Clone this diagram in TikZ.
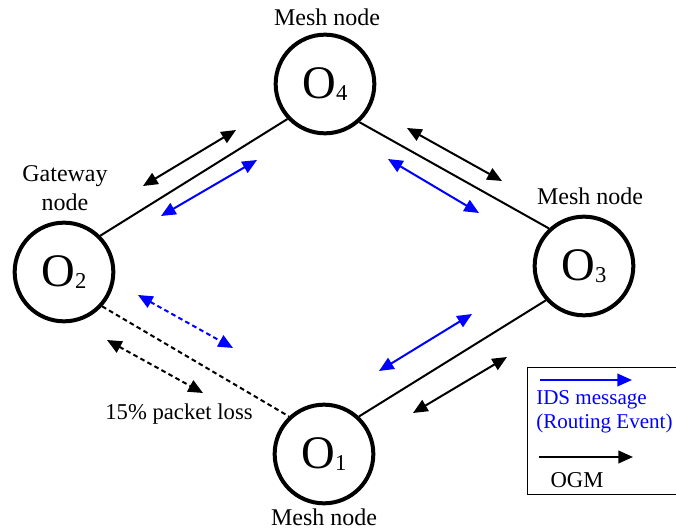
\documentclass[tikz,border=0pt]{standalone}
\usepackage{fontspec}
\setmainfont{Liberation Serif}
\usetikzlibrary{arrows.meta}

\definecolor{idsblue}{RGB}{0,0,255}

\tikzset{
  meshnode/.style={draw, circle, line width=3pt, minimum size=74pt, inner sep=0pt},
  lbl/.style={font=\fontsize{17}{22}\selectfont},
  role/.style={font=\fontsize{18}{22}\selectfont},
  keytext/.style={font=\fontsize{15.8}{20}\selectfont, anchor=west, inner sep=0pt},
  link/.style={line width=1.5pt},
  lossy/.style={link, dash pattern=on 3.5pt off 2.5pt},
  ogm/.style={line width=1.5pt, {Triangle[length=11pt,width=9.5pt]}-{Triangle[length=11pt,width=9.5pt]}},
  ogmloss/.style={ogm, dash pattern=on 3.5pt off 2.5pt},
  ids/.style={ogm, idsblue},
  idsloss/.style={ogmloss, idsblue},
  keyarrow/.style={line width=1.5pt, -{Triangle[length=11pt,width=9.5pt]}},
}

\newcommand{\oname}[1]{{\fontsize{35}{35}\selectfont O}\raisebox{-2pt}{\fontsize{17}{17}\selectfont #1}}

\begin{document}
\begin{tikzpicture}[x=0.75pt, y=-0.75pt]
\useasboundingbox (0,0) rectangle (676,531);

% nodes of the mesh
\node[meshnode] (o4) at (325,84) {\oname{4}};
\node[meshnode] (o2) at (64,272) {\oname{2}};
\node[meshnode] (o3) at (584,266) {\oname{3}};
\node[meshnode] (o1) at (324,454) {\oname{1}};

\node[role] (t4) at (327,17) {Mesh node};
\node[role, align=center] (t2) at (65,188) {Gateway\\node};
\node[role] (t3) at (590,196) {Mesh node};
\node[role] (t1) at (324,517) {Mesh node};
\node[lbl] (loss) at (179,414) {15\% packet loss};

% links
\draw[link] (o2.45) -- (o4.223);
\draw[link] (o4.312) -- (o3.133);
\draw[link] (o3.222) -- (o1.47);
\draw[lossy] (o2.318) -- (o1.133);

% messages along the links
\foreach \m/\xa/\ya/\xb/\yb/\s in {g24/143/186/236/130/ogm, g43/407/128/502/181/ogm,
    g31/413/413/507/357/ogm, g21/107/340/203/393/ogmloss,
    i24/161/216/257/160/ids, i43/388/159/479/213/ids,
    i31/379/371/472/314/ids, i21/138/295/233/348/idsloss}
{
  \coordinate (\m-a) at (\xa,\ya);
  \coordinate (\m-b) at (\xb,\yb);
  \draw[\s] (\m-a) -- (\m-b);
}

% legend
\node[draw, line width=1pt, minimum width=117pt, minimum height=95pt, anchor=north west] (legend) at (527,367) {};
\coordinate (ki-a) at (540,380);
\coordinate (ki-b) at (632,380);
\draw[keyarrow, idsblue] (ki-a) -- (ki-b);
\node[keytext, text=idsblue] (kids) at (536,400) {IDS message};
\node[keytext, text=idsblue] (kroute) at (536,423) {(Routing Event)};
\coordinate (kg-a) at (539,457);
\coordinate (kg-b) at (633,457);
\draw[keyarrow] (kg-a) -- (kg-b);
\node[lbl] (kogm) at (577,480) {OGM};

\end{tikzpicture}
\end{document}
